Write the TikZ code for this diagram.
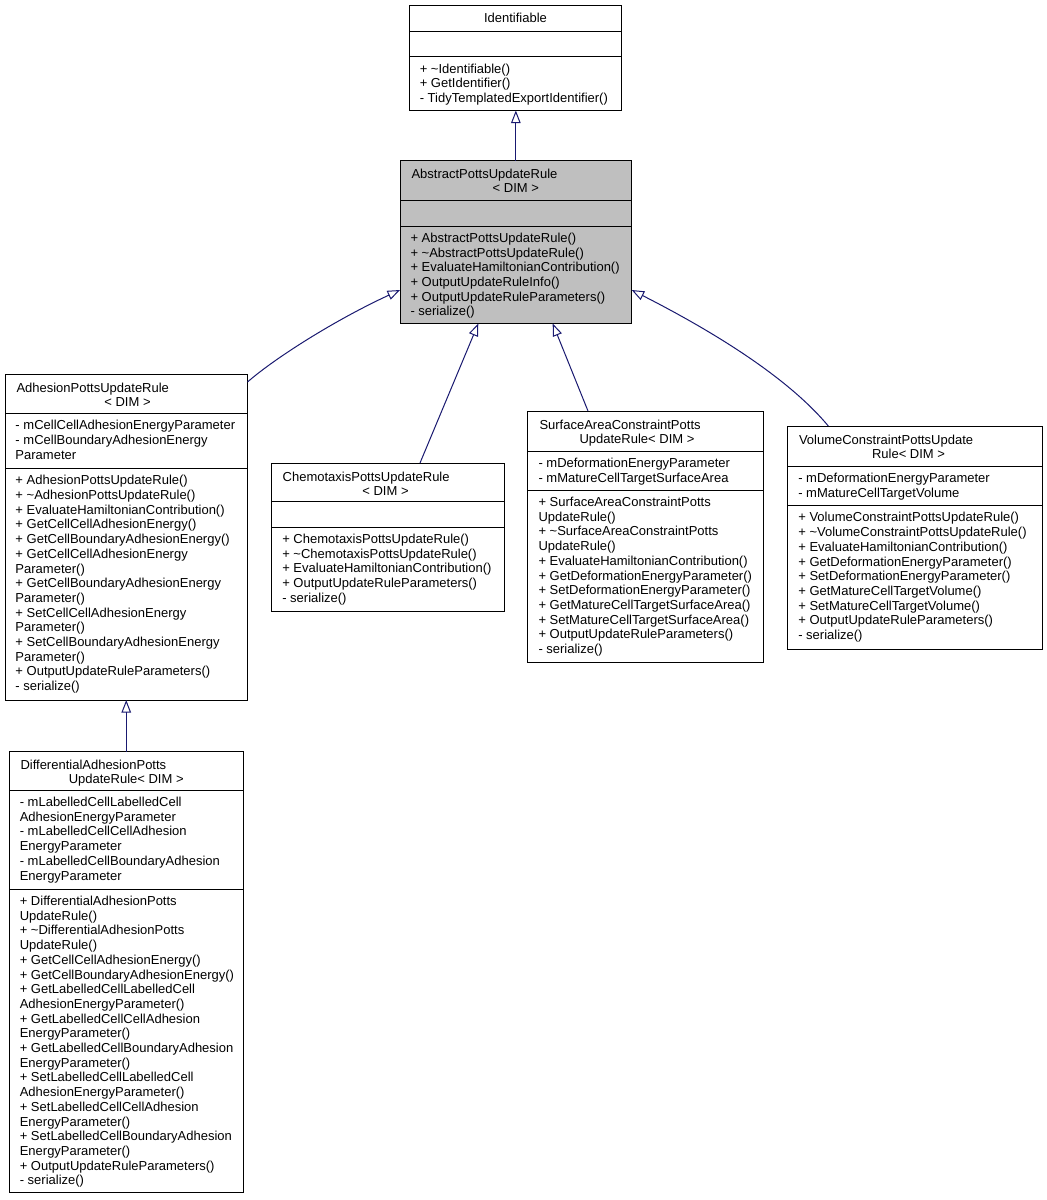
\documentclass[tikz,border=0pt]{standalone}
\usepackage{fontspec}
\setmainfont{Liberation Sans}
\usetikzlibrary{arrows.meta,fit,calc}
\definecolor{edgeblue}{HTML}{191970}
\definecolor{absgray}{HTML}{BFBFBF}
\newcommand\umlfont{\fontsize{13}{14.7}\selectfont}
\tikzset{
  umlbox/.style={draw=black, line width=1pt, inner sep=0pt, outer sep=0pt, fill=white},
  divider/.style={draw=black, line width=1pt},
  txt/.style={inner sep=0pt, outer sep=0pt, font=\umlfont, align=left, anchor=north west},
  ttl/.style={inner sep=0pt, outer sep=0pt, font=\umlfont, anchor=base west},
  ttlc/.style={inner sep=0pt, outer sep=0pt, font=\umlfont, anchor=base},
  inherit/.style={draw=edgeblue, line width=1pt, -{Triangle[open, length=12.5pt, width=9.5pt, line width=1pt]}},
}
\begin{document}
\begin{tikzpicture}[x=1pt, y=-1pt]
\useasboundingbox[fill=white] (0,0) rectangle (1047,1200);

% Identifiable
\node[umlbox, fit={(409.3,5.5) (621.7,110.5)}] (ident) {};
\draw[divider] (409.3,31.7) -- (621.7,31.7);
\draw[divider] (409.3,56.7) -- (621.7,56.7);
\node[ttlc] (identT) at (515.5,22.5) {Identifiable};
\node[txt] (identM) at (419.8,62.9) {\strut+ \textasciitilde Identifiable()\\+ GetIdentifier()\\- TidyTemplatedExportIdentifier()};

% AbstractPottsUpdateRule
\node[umlbox, fill=absgray, fit={(400,160.7) (631.7,323.5)}] (abs) {};
\draw[divider] (400,200.5) -- (631.7,200.5);
\draw[divider] (400,226) -- (631.7,226);
\node[ttl] (absT1) at (411.5,178.2) {AbstractPottsUpdateRule};
\node[ttlc] (absT2) at (515.8,192.2) {\textless{} DIM \textgreater};
\node[txt] (absM) at (410.5,232.2) {\strut+ AbstractPottsUpdateRule()\\+ \textasciitilde AbstractPottsUpdateRule()\\+ EvaluateHamiltonianContribution()\\+ OutputUpdateRuleInfo()\\+ OutputUpdateRuleParameters()\\- serialize()};

% AdhesionPottsUpdateRule
\node[umlbox, fit={(5,374.5) (247.5,700)}] (adh) {};
\draw[divider] (5,413.3) -- (247.5,413.3);
\draw[divider] (5,468.3) -- (247.5,468.3);
\node[ttl] (adhT1) at (16.5,392.3) {AdhesionPottsUpdateRule};
\node[ttlc] (adhT2) at (127.5,406.3) {\textless{} DIM \textgreater};
\node[txt] (adhA) at (15.5,419.5) {\strut- mCellCellAdhesionEnergyParameter\\- mCellBoundaryAdhesionEnergy\\Parameter};
\node[txt] (adhM) at (15.5,474.5) {\strut+ AdhesionPottsUpdateRule()\\+ \textasciitilde AdhesionPottsUpdateRule()\\+ EvaluateHamiltonianContribution()\\+ GetCellCellAdhesionEnergy()\\+ GetCellBoundaryAdhesionEnergy()\\+ GetCellCellAdhesionEnergy\\Parameter()\\+ GetCellBoundaryAdhesionEnergy\\Parameter()\\+ SetCellCellAdhesionEnergy\\Parameter()\\+ SetCellBoundaryAdhesionEnergy\\Parameter()\\+ OutputUpdateRuleParameters()\\- serialize()};

% ChemotaxisPottsUpdateRule
\node[umlbox, fit={(271.7,463) (504,611)}] (chemo) {};
\draw[divider] (271.7,501) -- (504,501);
\draw[divider] (271.7,527) -- (504,527);
\node[ttl] (chemoT1) at (282.7,481) {ChemotaxisPottsUpdateRule};
\node[ttlc] (chemoT2) at (385.5,495) {\textless{} DIM \textgreater};
\node[txt] (chemoM) at (282.3,533.2) {\strut+ ChemotaxisPottsUpdateRule()\\+ \textasciitilde ChemotaxisPottsUpdateRule()\\+ EvaluateHamiltonianContribution()\\+ OutputUpdateRuleParameters()\\- serialize()};

% SurfaceAreaConstraintPottsUpdateRule
\node[umlbox, fit={(527.3,411) (763,662)}] (surf) {};
\draw[divider] (527.3,451) -- (763,451);
\draw[divider] (527.3,490) -- (763,490);
\node[ttl] (surfT1) at (539.5,429) {SurfaceAreaConstraintPotts};
\node[ttlc] (surfT2) at (637,443.3) {UpdateRule\textless{} DIM \textgreater};
\node[txt] (surfA) at (538.5,457.2) {\strut- mDeformationEnergyParameter\\- mMatureCellTargetSurfaceArea};
\node[txt] (surfM) at (538.5,496.2) {\strut+ SurfaceAreaConstraintPotts\\UpdateRule()\\+ \textasciitilde SurfaceAreaConstraintPotts\\UpdateRule()\\+ EvaluateHamiltonianContribution()\\+ GetDeformationEnergyParameter()\\+ SetDeformationEnergyParameter()\\+ GetMatureCellTargetSurfaceArea()\\+ SetMatureCellTargetSurfaceArea()\\+ OutputUpdateRuleParameters()\\- serialize()};

% VolumeConstraintPottsUpdateRule
\node[umlbox, fit={(787.3,426) (1042,649.3)}] (vol) {};
\draw[divider] (787.3,466) -- (1042,466);
\draw[divider] (787.3,505.5) -- (1042,505.5);
\node[ttl] (volT1) at (799,444) {VolumeConstraintPottsUpdate};
\node[ttlc] (volT2) at (908.5,458.3) {Rule\textless{} DIM \textgreater};
\node[txt] (volA) at (798.3,472.2) {\strut- mDeformationEnergyParameter\\- mMatureCellTargetVolume};
\node[txt] (volM) at (798.3,511.7) {\strut+ VolumeConstraintPottsUpdateRule()\\+ \textasciitilde VolumeConstraintPottsUpdateRule()\\+ EvaluateHamiltonianContribution()\\+ GetDeformationEnergyParameter()\\+ SetDeformationEnergyParameter()\\+ GetMatureCellTargetVolume()\\+ SetMatureCellTargetVolume()\\+ OutputUpdateRuleParameters()\\- serialize()};

% DifferentialAdhesionPottsUpdateRule
\node[umlbox, fit={(9,751.7) (243.5,1192)}] (diff) {};
\draw[divider] (9,790) -- (243.5,790);
\draw[divider] (9,889) -- (243.5,889);
\node[ttl] (diffT1) at (20.5,769.5) {DifferentialAdhesionPotts};
\node[ttlc] (diffT2) at (126.2,783.8) {UpdateRule\textless{} DIM \textgreater};
\node[txt] (diffA) at (19.8,796.2) {\strut- mLabelledCellLabelledCell\\AdhesionEnergyParameter\\- mLabelledCellCellAdhesion\\EnergyParameter\\- mLabelledCellBoundaryAdhesion\\EnergyParameter};
\node[txt] (diffM) at (19.8,895.2) {\strut+ DifferentialAdhesionPotts\\UpdateRule()\\+ \textasciitilde DifferentialAdhesionPotts\\UpdateRule()\\+ GetCellCellAdhesionEnergy()\\+ GetCellBoundaryAdhesionEnergy()\\+ GetLabelledCellLabelledCell\\AdhesionEnergyParameter()\\+ GetLabelledCellCellAdhesion\\EnergyParameter()\\+ GetLabelledCellBoundaryAdhesion\\EnergyParameter()\\+ SetLabelledCellLabelledCell\\AdhesionEnergyParameter()\\+ SetLabelledCellCellAdhesion\\EnergyParameter()\\+ SetLabelledCellBoundaryAdhesion\\EnergyParameter()\\+ OutputUpdateRuleParameters()\\- serialize()};

% inheritance connectors
\draw[inherit] (abs.north) -- (abs.north |- ident.south);
\draw[inherit] ($(adh.north east)+(0,7.5)$) .. controls (275,358) and (335,320) .. ($(abs.west)+(0,47.9)$);
\draw[inherit] ($(chemo.north west)+(148.3,0)$) -- ($(abs.south west)+(78.3,0)$);
\draw[inherit] ($(surf.north west)+(60.7,0)$) -- ($(abs.south west)+(152.7,0)$);
\draw[inherit] ($(vol.north west)+(41,0)$) .. controls (790,380) and (720,335) .. ($(abs.east)+(0,47.9)$);
\draw[inherit] (diff.north) -- (adh.south);
\end{tikzpicture}
\end{document}
